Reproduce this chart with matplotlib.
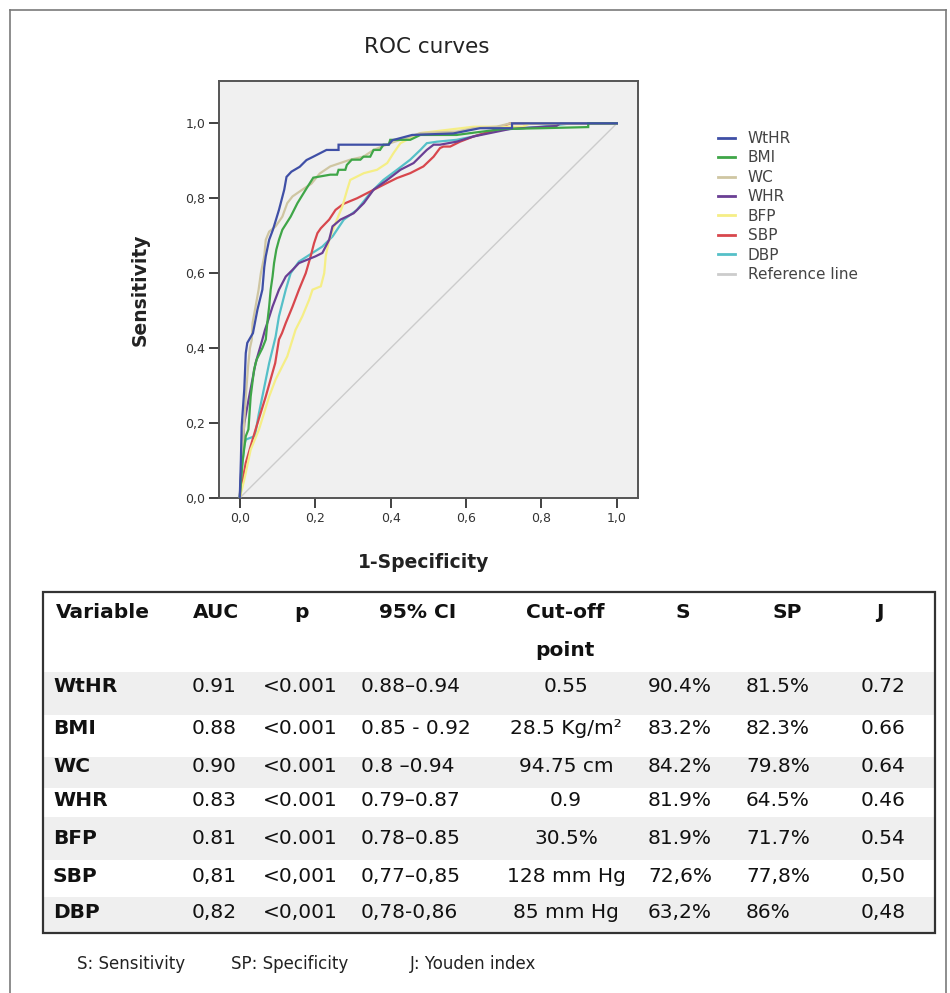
import matplotlib
matplotlib.use('Agg')
import matplotlib.pyplot as plt
from matplotlib.patches import Rectangle
from matplotlib.lines import Line2D

# ROC curves (1-specificity, sensitivity)
wthr_x = [0, 0.003, 0.005, 0.012, 0.016, 0.020, 0.035, 0.047, 0.060, 0.065, 0.069, 0.078, 0.088, 0.104, 0.118,
          0.124, 0.137, 0.159, 0.177, 0.195, 0.230, 0.262, 0.262, 0.395, 0.405, 0.457, 0.566, 0.637, 0.722, 0.722, 1.0]
wthr_y = [0, 0.10, 0.19, 0.29, 0.387, 0.414, 0.44, 0.503, 0.556, 0.616, 0.645, 0.689, 0.716, 0.769, 0.823,
          0.857, 0.871, 0.884, 0.902, 0.911, 0.929, 0.929, 0.943, 0.943, 0.955, 0.969, 0.973, 0.987, 0.987, 1.0, 1.0]

bmi_x = [0, 0.007, 0.016, 0.023, 0.029, 0.038, 0.045, 0.060, 0.069, 0.073, 0.078, 0.082, 0.087, 0.091, 0.097, 0.104,
         0.113, 0.135, 0.153, 0.175, 0.195, 0.240, 0.258, 0.262, 0.280, 0.284, 0.297, 0.320, 0.328, 0.346, 0.355,
         0.372, 0.381, 0.395, 0.399, 0.452, 0.479, 0.575, 0.620, 0.700, 0.800, 0.924, 0.924, 1.0]
bmi_y = [0, 0.094, 0.165, 0.183, 0.271, 0.343, 0.37, 0.40, 0.423, 0.467, 0.511, 0.556, 0.591, 0.627, 0.663, 0.689,
         0.716, 0.751, 0.787, 0.823, 0.855, 0.863, 0.863, 0.876, 0.876, 0.889, 0.903, 0.903, 0.911, 0.911, 0.929,
         0.929, 0.943, 0.943, 0.956, 0.956, 0.969, 0.969, 0.975, 0.985, 0.987, 0.99, 1.0, 1.0]

wc_x = [0, 0.005, 0.010, 0.016, 0.022, 0.027, 0.032, 0.034, 0.042, 0.050, 0.056, 0.065, 0.069, 0.078, 0.095, 0.113,
        0.126, 0.140, 0.166, 0.190, 0.212, 0.240, 0.293, 0.328, 0.355, 0.399, 0.426, 0.479, 0.575, 0.619, 0.681,
        0.717, 1.0]
wc_y = [0, 0.08, 0.17, 0.27, 0.35, 0.40, 0.423, 0.467, 0.511, 0.556, 0.600, 0.645, 0.689, 0.711, 0.725, 0.751,
        0.787, 0.805, 0.823, 0.839, 0.866, 0.885, 0.903, 0.911, 0.929, 0.947, 0.956, 0.974, 0.978, 0.987, 0.991,
        1.0, 1.0]

whr_x = [0, 0.005, 0.012, 0.025, 0.042, 0.060, 0.067, 0.073, 0.087, 0.104, 0.122, 0.140, 0.157, 0.179, 0.201,
         0.219, 0.237, 0.246, 0.267, 0.302, 0.329, 0.355, 0.391, 0.426, 0.461, 0.496, 0.514, 0.531, 0.575, 0.620,
         0.717, 0.840, 0.850, 1.0]
whr_y = [0, 0.094, 0.20, 0.271, 0.36, 0.423, 0.449, 0.467, 0.511, 0.556, 0.591, 0.609, 0.627, 0.636, 0.645,
         0.654, 0.689, 0.725, 0.743, 0.760, 0.787, 0.823, 0.849, 0.876, 0.894, 0.929, 0.943, 0.943, 0.951, 0.965,
         0.985, 0.993, 1.0, 1.0]

bfp_x = [0, 0.005, 0.012, 0.029, 0.051, 0.078, 0.095, 0.126, 0.140, 0.148, 0.166, 0.184, 0.193, 0.215, 0.224,
         0.228, 0.237, 0.254, 0.272, 0.285, 0.293, 0.329, 0.364, 0.391, 0.408, 0.426, 0.479, 0.620, 0.750, 0.770, 1.0]
bfp_y = [0, 0.02, 0.049, 0.129, 0.183, 0.271, 0.316, 0.378, 0.423, 0.449, 0.485, 0.529, 0.556, 0.565, 0.600,
         0.645, 0.689, 0.734, 0.778, 0.823, 0.849, 0.867, 0.876, 0.894, 0.921, 0.947, 0.974, 0.991, 0.991, 1.0, 1.0]

sbp_x = [0, 0.008, 0.016, 0.042, 0.069, 0.094, 0.104, 0.112, 0.122, 0.140, 0.157, 0.175, 0.188, 0.197, 0.206,
         0.215, 0.237, 0.254, 0.275, 0.311, 0.346, 0.381, 0.417, 0.452, 0.487, 0.514, 0.531, 0.540, 0.558, 0.584,
         0.620, 0.664, 0.717, 1.0]
sbp_y = [0, 0.05, 0.094, 0.183, 0.271, 0.36, 0.423, 0.44, 0.467, 0.511, 0.556, 0.600, 0.645, 0.680, 0.707,
         0.720, 0.743, 0.769, 0.785, 0.800, 0.818, 0.836, 0.854, 0.867, 0.885, 0.911, 0.934, 0.938, 0.938, 0.951,
         0.965, 0.978, 1.0, 1.0]

dbp_x = [0, 0.005, 0.012, 0.016, 0.040, 0.051, 0.060, 0.078, 0.095, 0.104, 0.122, 0.135, 0.157, 0.219, 0.246,
         0.276, 0.311, 0.346, 0.381, 0.417, 0.452, 0.479, 0.496, 0.523, 0.575, 0.620, 0.681, 0.800, 0.880, 1.0]
dbp_y = [0, 0.07, 0.14, 0.156, 0.165, 0.227, 0.271, 0.36, 0.43, 0.485, 0.556, 0.600, 0.631, 0.671, 0.698,
         0.743, 0.769, 0.814, 0.849, 0.876, 0.903, 0.929, 0.947, 0.951, 0.956, 0.965, 0.982, 0.991, 1.0, 1.0]

ref_x = [0, 1]
ref_y = [0, 1]

series_names = ['WtHR', 'BMI', 'WC', 'WHR', 'BFP', 'SBP', 'DBP', 'Reference line']
series_colors = ['#3f4fa6', '#3fa648', '#cfc6a2', '#6a3f94', '#f5ee86', '#d8474d', '#55c0c8', '#cccccc']
series_data = [(wthr_x, wthr_y), (bmi_x, bmi_y), (wc_x, wc_y), (whr_x, whr_y),
               (bfp_x, bfp_y), (sbp_x, sbp_y), (dbp_x, dbp_y), (ref_x, ref_y)]

tick_vals = [0.0, 0.2, 0.4, 0.6, 0.8, 1.0]
tick_labels = ['0,0', '0,2', '0,4', '0,6', '0,8', '1,0']

# table
table_header = ['Variable', 'AUC', 'p', '95% CI', 'Cut-off', 'S', 'SP', 'J']
variables = ['WtHR', 'BMI', 'WC', 'WHR', 'BFP', 'SBP', 'DBP']
auc = ['0.91', '0.88', '0.90', '0.83', '0.81', '0,81', '0,82']
p_vals = ['<0.001', '<0.001', '<0.001', '<0.001', '<0.001', '<0,001', '<0,001']
ci = ['0.88–0.94', '0.85 - 0.92', '0.8 –0.94', '0.79–0.87', '0.78–0.85', '0,77–0,85', '0,78-0,86']
cutoff = ['0.55', '28.5 Kg/m²', '94.75 cm', '0.9', '30.5%', '128 mm Hg', '85 mm Hg']
sens = ['90.4%', '83.2%', '84.2%', '81.9%', '81.9%', '72,6%', '63,2%']
spec = ['81.5%', '82.3%', '79.8%', '64.5%', '71.7%', '77,8%', '86%']
youden = ['0.72', '0.66', '0.64', '0.46', '0.54', '0,50', '0,48']
footnotes = ['S: Sensitivity', 'SP: Specificity', 'J: Youden index']

W, H = 950, 993


def fx(px):
    return px / W


def fy(py):
    return 1 - py / H


fig = plt.figure(figsize=(9.5, 9.93), dpi=100)
fig.patch.set_facecolor('white')

# outer frame of the picture
for xs, ys in [([10, 10], [10, 993]), ([10, 946], [10, 10]), ([946, 946], [10, 993])]:
    fig.add_artist(Line2D([fx(x) for x in xs], [fy(y) for y in ys], color='#7a7a7a', lw=1.2))

# --- ROC chart ---
ax = fig.add_axes([fx(219), fy(498), fx(638) - fx(219), fy(81) - fy(498)])
ax.set_facecolor('#f0f0f0')
order = [7, 6, 5, 4, 3, 2, 1, 0]
for i in order:
    x, y = series_data[i]
    ax.plot(x, y, color=series_colors[i], lw=1.6 if i < 7 else 1.0, label=series_names[i],
            solid_joinstyle='miter', zorder=3 + (7 - i))
ax.set_xlim(-0.055, 1.056)
ax.set_ylim(0, 1.113)
ax.set_xticks(tick_vals)
ax.set_xticklabels(tick_labels)
ax.set_yticks(tick_vals)
ax.set_yticklabels(tick_labels)
ax.tick_params(direction='out', length=7, width=1.3, colors='#333333', labelsize=9, pad=3)
for sp in ax.spines.values():
    sp.set_color('#555555')
    sp.set_linewidth(1.4)

handles = [Line2D([], [], color=c, lw=2) for c in series_colors]
ax.legend(handles, series_names, loc='upper left', bbox_to_anchor=(fx(718), fy(131)),
          bbox_transform=fig.transFigure, frameon=False, fontsize=11, borderpad=0, borderaxespad=0,
          handlelength=1.1, handletextpad=0.85, labelspacing=0.29, labelcolor='#444444')

fig.text(fx(427), fy(47), 'ROC curves', ha='center', va='center', fontsize=15.5, color='#222222')
fig.text(fx(140), fy(290), 'Sensitivity', ha='center', va='center', rotation=90, fontsize=13.5,
         fontweight='bold', color='#222222')
fig.text(fx(424), fy(563), '1-Specificity', ha='center', va='center', fontsize=13.5,
         fontweight='bold', color='#222222')

# --- table ---
bands = [(672, 715), (757, 788), (817, 860), (897, 933)]
for y0, y1 in bands:
    fig.add_artist(Rectangle((fx(43), fy(y1)), fx(935) - fx(43), fy(y0) - fy(y1),
                             facecolor='#efefef', edgecolor='none', zorder=0))
fig.add_artist(Rectangle((fx(43), fy(933)), fx(935) - fx(43), fy(592) - fy(933),
                         facecolor='none', edgecolor='#333333', lw=1.6, zorder=2))

fs = 14.5
tc = '#111111'
header_pos = [(56, 'left'), (216, 'center'), (301, 'center'), (418, 'center'), (565, 'center'),
              (683, 'center'), (787, 'center'), (880, 'center')]
for (px, ha), txt in zip(header_pos, table_header):
    fig.text(fx(px), fy(613), txt, ha=ha, va='center', fontsize=fs, fontweight='bold', color=tc)
fig.text(fx(565), fy(650), 'point', ha='center', va='center', fontsize=fs, fontweight='bold', color=tc)

row_y = [686, 729, 767, 801, 839, 876, 912]
cols = [(auc, 214, 'center'), (p_vals, 300, 'center'), (ci, 361, 'left'), (cutoff, 566, 'center'),
        (sens, 680, 'center'), (spec, 746, 'left'), (youden, 883, 'center')]
for r, yy in enumerate(row_y):
    fig.text(fx(53), fy(yy), variables[r], ha='left', va='center', fontsize=fs, fontweight='bold', color=tc)
    for vals, px, ha in cols:
        fig.text(fx(px), fy(yy), vals[r], ha=ha, va='center', fontsize=fs, color=tc)

for px, txt in zip([77, 231, 410], footnotes):
    fig.text(fx(px), fy(964), txt, ha='left', va='center', fontsize=12, color='#222222')

fig.savefig('out.png', dpi=100)
